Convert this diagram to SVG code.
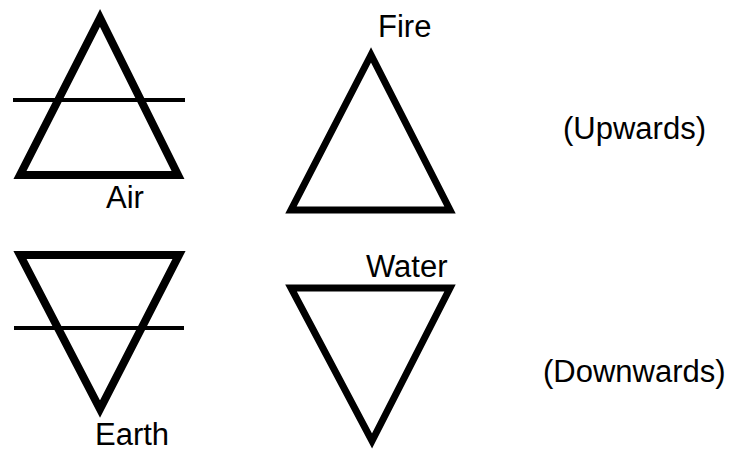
<svg xmlns="http://www.w3.org/2000/svg" width="735" height="451" viewBox="0 0 735 451">
<style>
.tri{fill:none;stroke:#000;stroke-linejoin:miter;stroke-miterlimit:10}
.bar{stroke:#000;stroke-width:4}
text{font-family:"Liberation Sans",Arial,sans-serif;font-size:31px;fill:#000}
</style>
<rect width="735" height="451" fill="#fff"/>
<g id="air">
<polygon class="tri" stroke-width="8" points="100,18 20,175 178,175"/>
<line class="bar" x1="13" y1="100" x2="185" y2="100"/>
<text x="106" y="208">Air</text>
</g>
<g id="fire">
<polygon class="tri" stroke-width="7" points="371,55 291,210 450,210"/>
<text x="378" y="37">Fire</text>
</g>
<g id="earth">
<polygon class="tri" stroke-width="8" points="20,255 179,255 100,409"/>
<line class="bar" x1="14" y1="328" x2="184" y2="328"/>
<text x="95" y="445">Earth</text>
</g>
<g id="water">
<polygon class="tri" stroke-width="7" points="291,288 450,288 372,441"/>
<text x="366" y="277">Water</text>
</g>
<g id="labels">
<text x="563" y="139">(Upwards)</text>
<text x="543" y="382">(Downwards)</text>
</g>
<g id="connectors"/>
</svg>
